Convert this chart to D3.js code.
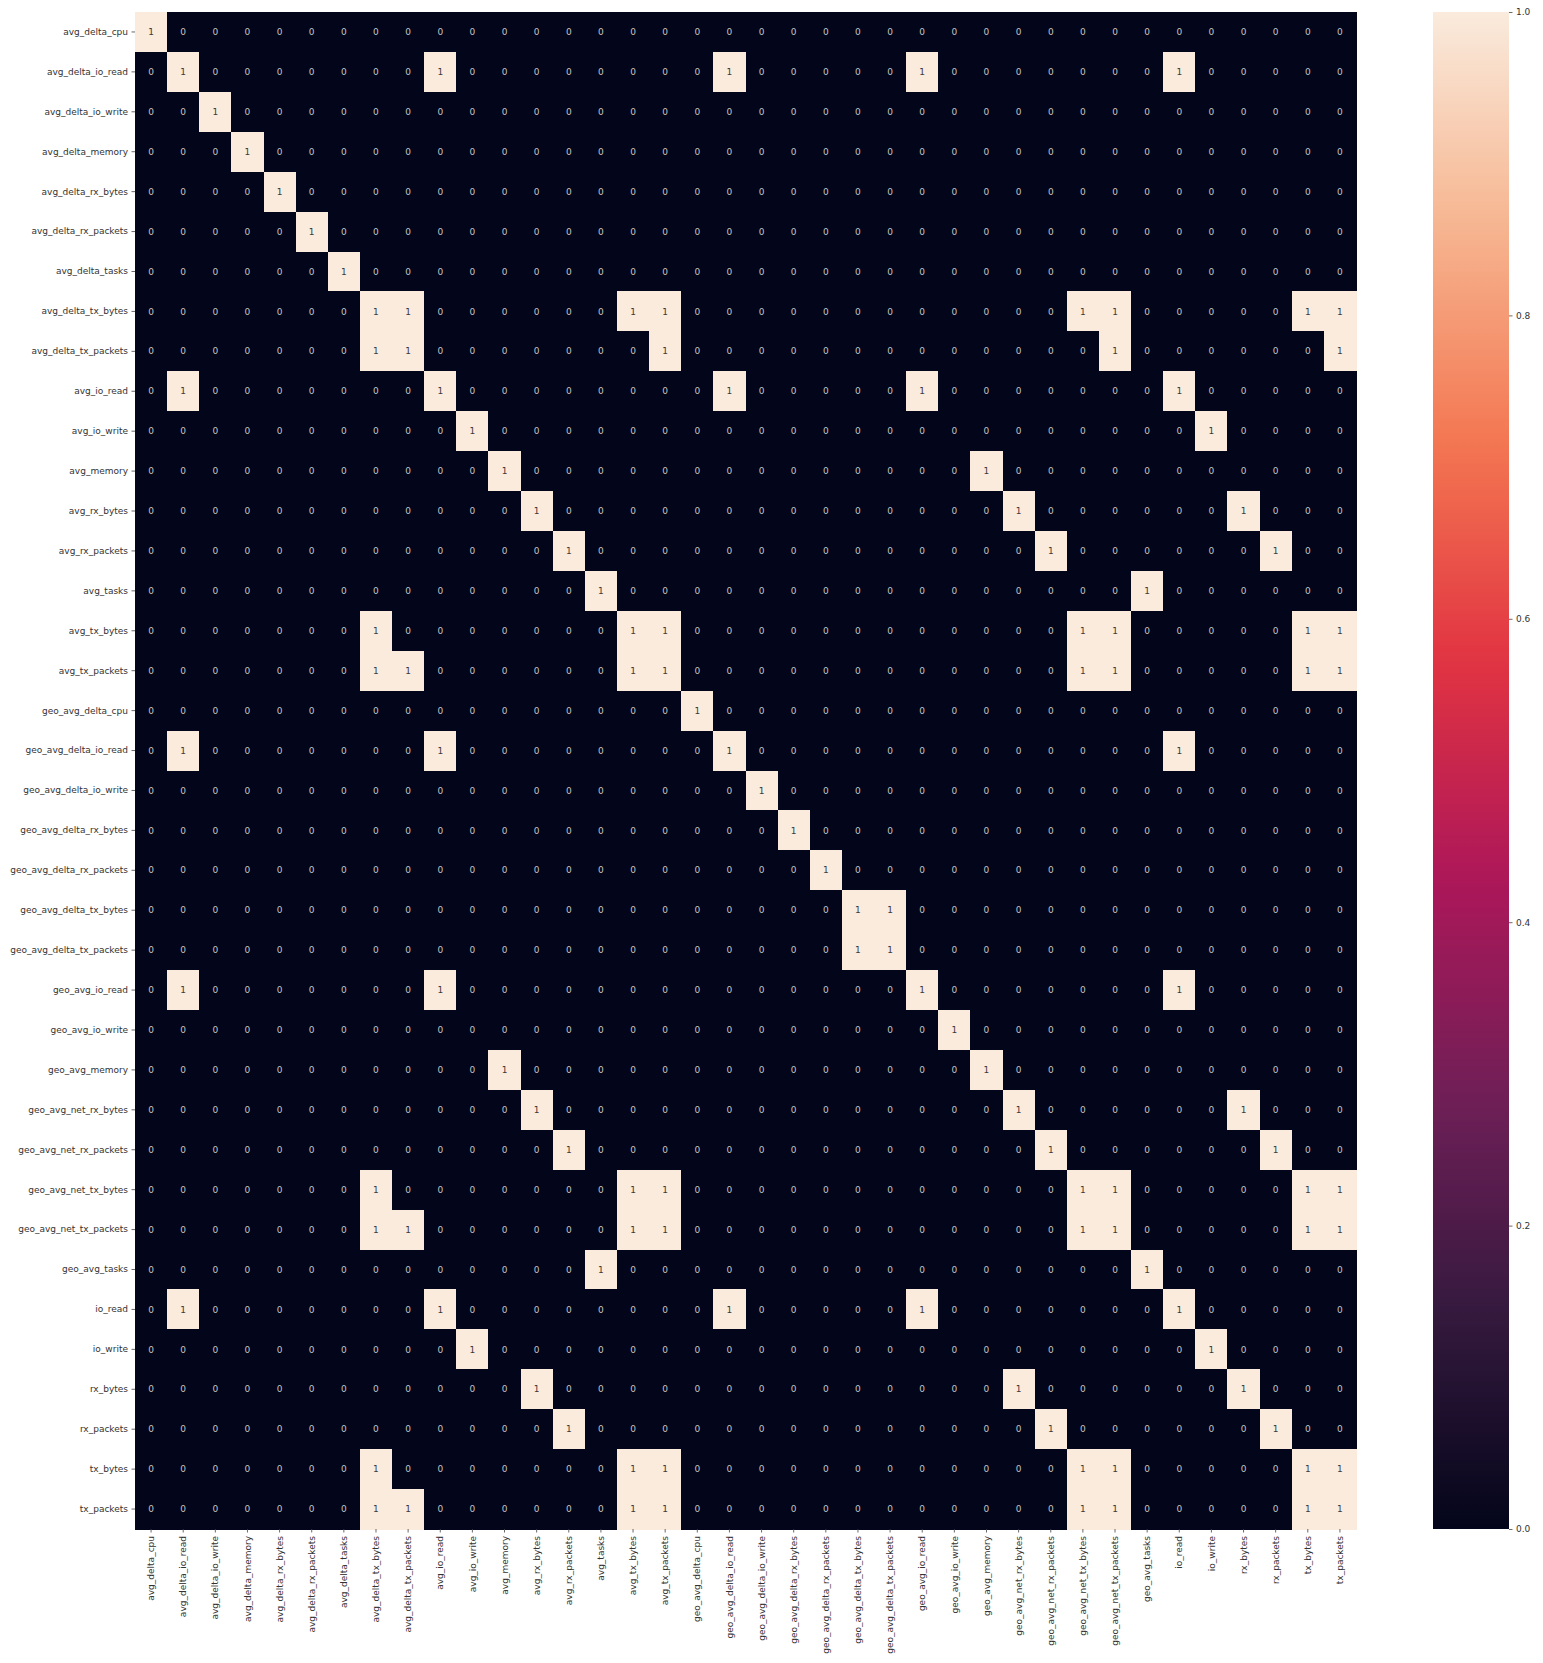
<!DOCTYPE html>
<html>
<head>
<meta charset="utf-8">
<script src="https://cdn.jsdelivr.net/npm/d3@7"></script>
<style>
  html, body { margin: 0; padding: 0; background: #fff; }
  svg { display: block; font-family: "DejaVu Sans", sans-serif; }
</style>
</head>
<body>
<svg id="chart" width="1543" height="1663"></svg>
<script>
// Feature names (rows and columns share the same order)
const features = [
  "avg_delta_cpu", "avg_delta_io_read", "avg_delta_io_write", "avg_delta_memory",
  "avg_delta_rx_bytes", "avg_delta_rx_packets", "avg_delta_tasks", "avg_delta_tx_bytes",
  "avg_delta_tx_packets", "avg_io_read", "avg_io_write", "avg_memory",
  "avg_rx_bytes", "avg_rx_packets", "avg_tasks", "avg_tx_bytes", "avg_tx_packets",
  "geo_avg_delta_cpu", "geo_avg_delta_io_read", "geo_avg_delta_io_write",
  "geo_avg_delta_rx_bytes", "geo_avg_delta_rx_packets", "geo_avg_delta_tx_bytes",
  "geo_avg_delta_tx_packets", "geo_avg_io_read", "geo_avg_io_write", "geo_avg_memory",
  "geo_avg_net_rx_bytes", "geo_avg_net_rx_packets", "geo_avg_net_tx_bytes",
  "geo_avg_net_tx_packets", "geo_avg_tasks", "io_read", "io_write",
  "rx_bytes", "rx_packets", "tx_bytes", "tx_packets"
];

// Thresholded correlation matrix, one row per feature
const corr = [
  [1,0,0,0,0,0,0,0,0,0, 0,0,0,0,0,0,0,0,0,0, 0,0,0,0,0,0,0,0,0,0, 0,0,0,0,0,0,0,0],
  [0,1,0,0,0,0,0,0,0,1, 0,0,0,0,0,0,0,0,1,0, 0,0,0,0,1,0,0,0,0,0, 0,0,1,0,0,0,0,0],
  [0,0,1,0,0,0,0,0,0,0, 0,0,0,0,0,0,0,0,0,0, 0,0,0,0,0,0,0,0,0,0, 0,0,0,0,0,0,0,0],
  [0,0,0,1,0,0,0,0,0,0, 0,0,0,0,0,0,0,0,0,0, 0,0,0,0,0,0,0,0,0,0, 0,0,0,0,0,0,0,0],
  [0,0,0,0,1,0,0,0,0,0, 0,0,0,0,0,0,0,0,0,0, 0,0,0,0,0,0,0,0,0,0, 0,0,0,0,0,0,0,0],
  [0,0,0,0,0,1,0,0,0,0, 0,0,0,0,0,0,0,0,0,0, 0,0,0,0,0,0,0,0,0,0, 0,0,0,0,0,0,0,0],
  [0,0,0,0,0,0,1,0,0,0, 0,0,0,0,0,0,0,0,0,0, 0,0,0,0,0,0,0,0,0,0, 0,0,0,0,0,0,0,0],
  [0,0,0,0,0,0,0,1,1,0, 0,0,0,0,0,1,1,0,0,0, 0,0,0,0,0,0,0,0,0,1, 1,0,0,0,0,0,1,1],
  [0,0,0,0,0,0,0,1,1,0, 0,0,0,0,0,0,1,0,0,0, 0,0,0,0,0,0,0,0,0,0, 1,0,0,0,0,0,0,1],
  [0,1,0,0,0,0,0,0,0,1, 0,0,0,0,0,0,0,0,1,0, 0,0,0,0,1,0,0,0,0,0, 0,0,1,0,0,0,0,0],
  [0,0,0,0,0,0,0,0,0,0, 1,0,0,0,0,0,0,0,0,0, 0,0,0,0,0,0,0,0,0,0, 0,0,0,1,0,0,0,0],
  [0,0,0,0,0,0,0,0,0,0, 0,1,0,0,0,0,0,0,0,0, 0,0,0,0,0,0,1,0,0,0, 0,0,0,0,0,0,0,0],
  [0,0,0,0,0,0,0,0,0,0, 0,0,1,0,0,0,0,0,0,0, 0,0,0,0,0,0,0,1,0,0, 0,0,0,0,1,0,0,0],
  [0,0,0,0,0,0,0,0,0,0, 0,0,0,1,0,0,0,0,0,0, 0,0,0,0,0,0,0,0,1,0, 0,0,0,0,0,1,0,0],
  [0,0,0,0,0,0,0,0,0,0, 0,0,0,0,1,0,0,0,0,0, 0,0,0,0,0,0,0,0,0,0, 0,1,0,0,0,0,0,0],
  [0,0,0,0,0,0,0,1,0,0, 0,0,0,0,0,1,1,0,0,0, 0,0,0,0,0,0,0,0,0,1, 1,0,0,0,0,0,1,1],
  [0,0,0,0,0,0,0,1,1,0, 0,0,0,0,0,1,1,0,0,0, 0,0,0,0,0,0,0,0,0,1, 1,0,0,0,0,0,1,1],
  [0,0,0,0,0,0,0,0,0,0, 0,0,0,0,0,0,0,1,0,0, 0,0,0,0,0,0,0,0,0,0, 0,0,0,0,0,0,0,0],
  [0,1,0,0,0,0,0,0,0,1, 0,0,0,0,0,0,0,0,1,0, 0,0,0,0,0,0,0,0,0,0, 0,0,1,0,0,0,0,0],
  [0,0,0,0,0,0,0,0,0,0, 0,0,0,0,0,0,0,0,0,1, 0,0,0,0,0,0,0,0,0,0, 0,0,0,0,0,0,0,0],
  [0,0,0,0,0,0,0,0,0,0, 0,0,0,0,0,0,0,0,0,0, 1,0,0,0,0,0,0,0,0,0, 0,0,0,0,0,0,0,0],
  [0,0,0,0,0,0,0,0,0,0, 0,0,0,0,0,0,0,0,0,0, 0,1,0,0,0,0,0,0,0,0, 0,0,0,0,0,0,0,0],
  [0,0,0,0,0,0,0,0,0,0, 0,0,0,0,0,0,0,0,0,0, 0,0,1,1,0,0,0,0,0,0, 0,0,0,0,0,0,0,0],
  [0,0,0,0,0,0,0,0,0,0, 0,0,0,0,0,0,0,0,0,0, 0,0,1,1,0,0,0,0,0,0, 0,0,0,0,0,0,0,0],
  [0,1,0,0,0,0,0,0,0,1, 0,0,0,0,0,0,0,0,0,0, 0,0,0,0,1,0,0,0,0,0, 0,0,1,0,0,0,0,0],
  [0,0,0,0,0,0,0,0,0,0, 0,0,0,0,0,0,0,0,0,0, 0,0,0,0,0,1,0,0,0,0, 0,0,0,0,0,0,0,0],
  [0,0,0,0,0,0,0,0,0,0, 0,1,0,0,0,0,0,0,0,0, 0,0,0,0,0,0,1,0,0,0, 0,0,0,0,0,0,0,0],
  [0,0,0,0,0,0,0,0,0,0, 0,0,1,0,0,0,0,0,0,0, 0,0,0,0,0,0,0,1,0,0, 0,0,0,0,1,0,0,0],
  [0,0,0,0,0,0,0,0,0,0, 0,0,0,1,0,0,0,0,0,0, 0,0,0,0,0,0,0,0,1,0, 0,0,0,0,0,1,0,0],
  [0,0,0,0,0,0,0,1,0,0, 0,0,0,0,0,1,1,0,0,0, 0,0,0,0,0,0,0,0,0,1, 1,0,0,0,0,0,1,1],
  [0,0,0,0,0,0,0,1,1,0, 0,0,0,0,0,1,1,0,0,0, 0,0,0,0,0,0,0,0,0,1, 1,0,0,0,0,0,1,1],
  [0,0,0,0,0,0,0,0,0,0, 0,0,0,0,1,0,0,0,0,0, 0,0,0,0,0,0,0,0,0,0, 0,1,0,0,0,0,0,0],
  [0,1,0,0,0,0,0,0,0,1, 0,0,0,0,0,0,0,0,1,0, 0,0,0,0,1,0,0,0,0,0, 0,0,1,0,0,0,0,0],
  [0,0,0,0,0,0,0,0,0,0, 1,0,0,0,0,0,0,0,0,0, 0,0,0,0,0,0,0,0,0,0, 0,0,0,1,0,0,0,0],
  [0,0,0,0,0,0,0,0,0,0, 0,0,1,0,0,0,0,0,0,0, 0,0,0,0,0,0,0,1,0,0, 0,0,0,0,1,0,0,0],
  [0,0,0,0,0,0,0,0,0,0, 0,0,0,1,0,0,0,0,0,0, 0,0,0,0,0,0,0,0,1,0, 0,0,0,0,0,1,0,0],
  [0,0,0,0,0,0,0,1,0,0, 0,0,0,0,0,1,1,0,0,0, 0,0,0,0,0,0,0,0,0,1, 1,0,0,0,0,0,1,1],
  [0,0,0,0,0,0,0,1,1,0, 0,0,0,0,0,1,1,0,0,0, 0,0,0,0,0,0,0,0,0,1, 1,0,0,0,0,0,1,1]
];

// Colour bar ticks
const colorbarTicks = [0.0, 0.2, 0.4, 0.6, 0.8, 1.0];

// "rocket" colour map sampled at evenly spaced stops
const rocketStops = ["#03051a", "#35193e", "#701f57", "#ad1759", "#e13342", "#f37651", "#f6b48f", "#faebdd"];

const svg = d3.select("#chart");

const plot = { left: 135, right: 1356, top: 12, bottom: 1529 };
const cbar = { left: 1433, right: 1509 };

const x = d3.scaleBand().domain(features).range([plot.left, plot.right]).padding(0);
const y = d3.scaleBand().domain(features).range([plot.top, plot.bottom]).padding(0);

const color = d3.scaleLinear()
  .domain(rocketStops.map((_, i) => i / (rocketStops.length - 1)))
  .range(rocketStops)
  .interpolate(d3.interpolateRgb);

const cells = [];
corr.forEach((row, i) => row.forEach((v, j) => cells.push({ r: features[i], c: features[j], v })));

// Base fill under the grid so neighbouring cells leave no seams
svg.append("rect")
  .attr("x", plot.left)
  .attr("y", plot.top)
  .attr("width", plot.right - plot.left)
  .attr("height", plot.bottom - plot.top)
  .attr("fill", color(0));

// Heatmap cells
svg.append("g")
  .attr("shape-rendering", "crispEdges")
  .selectAll("rect")
  .data(cells)
  .join("rect")
  .attr("x", d => x(d.c))
  .attr("y", d => y(d.r))
  .attr("width", x.bandwidth() + 0.5)
  .attr("height", y.bandwidth() + 0.5)
  .attr("fill", d => color(d.v));

// Cell annotations (light text on dark cells, dark text on light cells)
svg.append("g")
  .selectAll("text")
  .data(cells)
  .join("text")
  .attr("x", d => x(d.c) + x.bandwidth() / 2)
  .attr("y", d => y(d.r) + y.bandwidth() / 2)
  .attr("dy", "0.35em")
  .attr("text-anchor", "middle")
  .attr("font-size", 9)
  .attr("fill", d => (d3.hsl(color(d.v)).l < 0.5 ? "#c4c4c4" : "#3a3a3a"))
  .text(d => d3.format("d")(d.v));

// Row labels
const yAxis = svg.append("g")
  .attr("transform", `translate(${plot.left},0)`)
  .call(d3.axisLeft(y).tickSize(3.5).tickPadding(3.5));
yAxis.select(".domain").remove();
yAxis.selectAll("line").attr("stroke", "#444").attr("stroke-width", 0.8);
yAxis.selectAll("text").attr("font-size", 9).attr("fill", "#333").attr("font-family", "DejaVu Sans, sans-serif");

// Column labels, rotated vertically
const xAxis = svg.append("g")
  .attr("transform", `translate(0,${plot.bottom})`)
  .call(d3.axisBottom(x).tickSize(3.5).tickPadding(3.5));
xAxis.select(".domain").remove();
xAxis.selectAll("line").attr("stroke", "#444").attr("stroke-width", 0.8);
xAxis.selectAll("text")
  .attr("font-size", 9)
  .attr("fill", "#333")
  .attr("font-family", "DejaVu Sans, sans-serif")
  .attr("transform", "rotate(-90)")
  .attr("x", -7)
  .attr("y", 0)
  .attr("dy", "0.35em")
  .style("text-anchor", "end");

// Colour bar
const grad = svg.append("defs").append("linearGradient")
  .attr("id", "rocket-grad")
  .attr("x1", 0).attr("y1", 1).attr("x2", 0).attr("y2", 0);
d3.range(0, 1.0001, 0.02).forEach(t => {
  grad.append("stop").attr("offset", t).attr("stop-color", color(t));
});

const cScale = d3.scaleLinear().domain([0, 1]).range([plot.bottom, plot.top]);

svg.append("rect")
  .attr("x", cbar.left)
  .attr("y", plot.top)
  .attr("width", cbar.right - cbar.left)
  .attr("height", plot.bottom - plot.top)
  .attr("fill", "url(#rocket-grad)");

const cAxis = svg.append("g")
  .attr("transform", `translate(${cbar.right},0)`)
  .call(d3.axisRight(cScale).tickValues(colorbarTicks).tickFormat(d3.format(".1f")).tickSize(3.5).tickPadding(3.5));
cAxis.select(".domain").remove();
cAxis.selectAll("line").attr("stroke", "#444").attr("stroke-width", 0.8);
cAxis.selectAll("text").attr("font-size", 9).attr("fill", "#333").attr("font-family", "DejaVu Sans, sans-serif");
</script>
</body>
</html>
